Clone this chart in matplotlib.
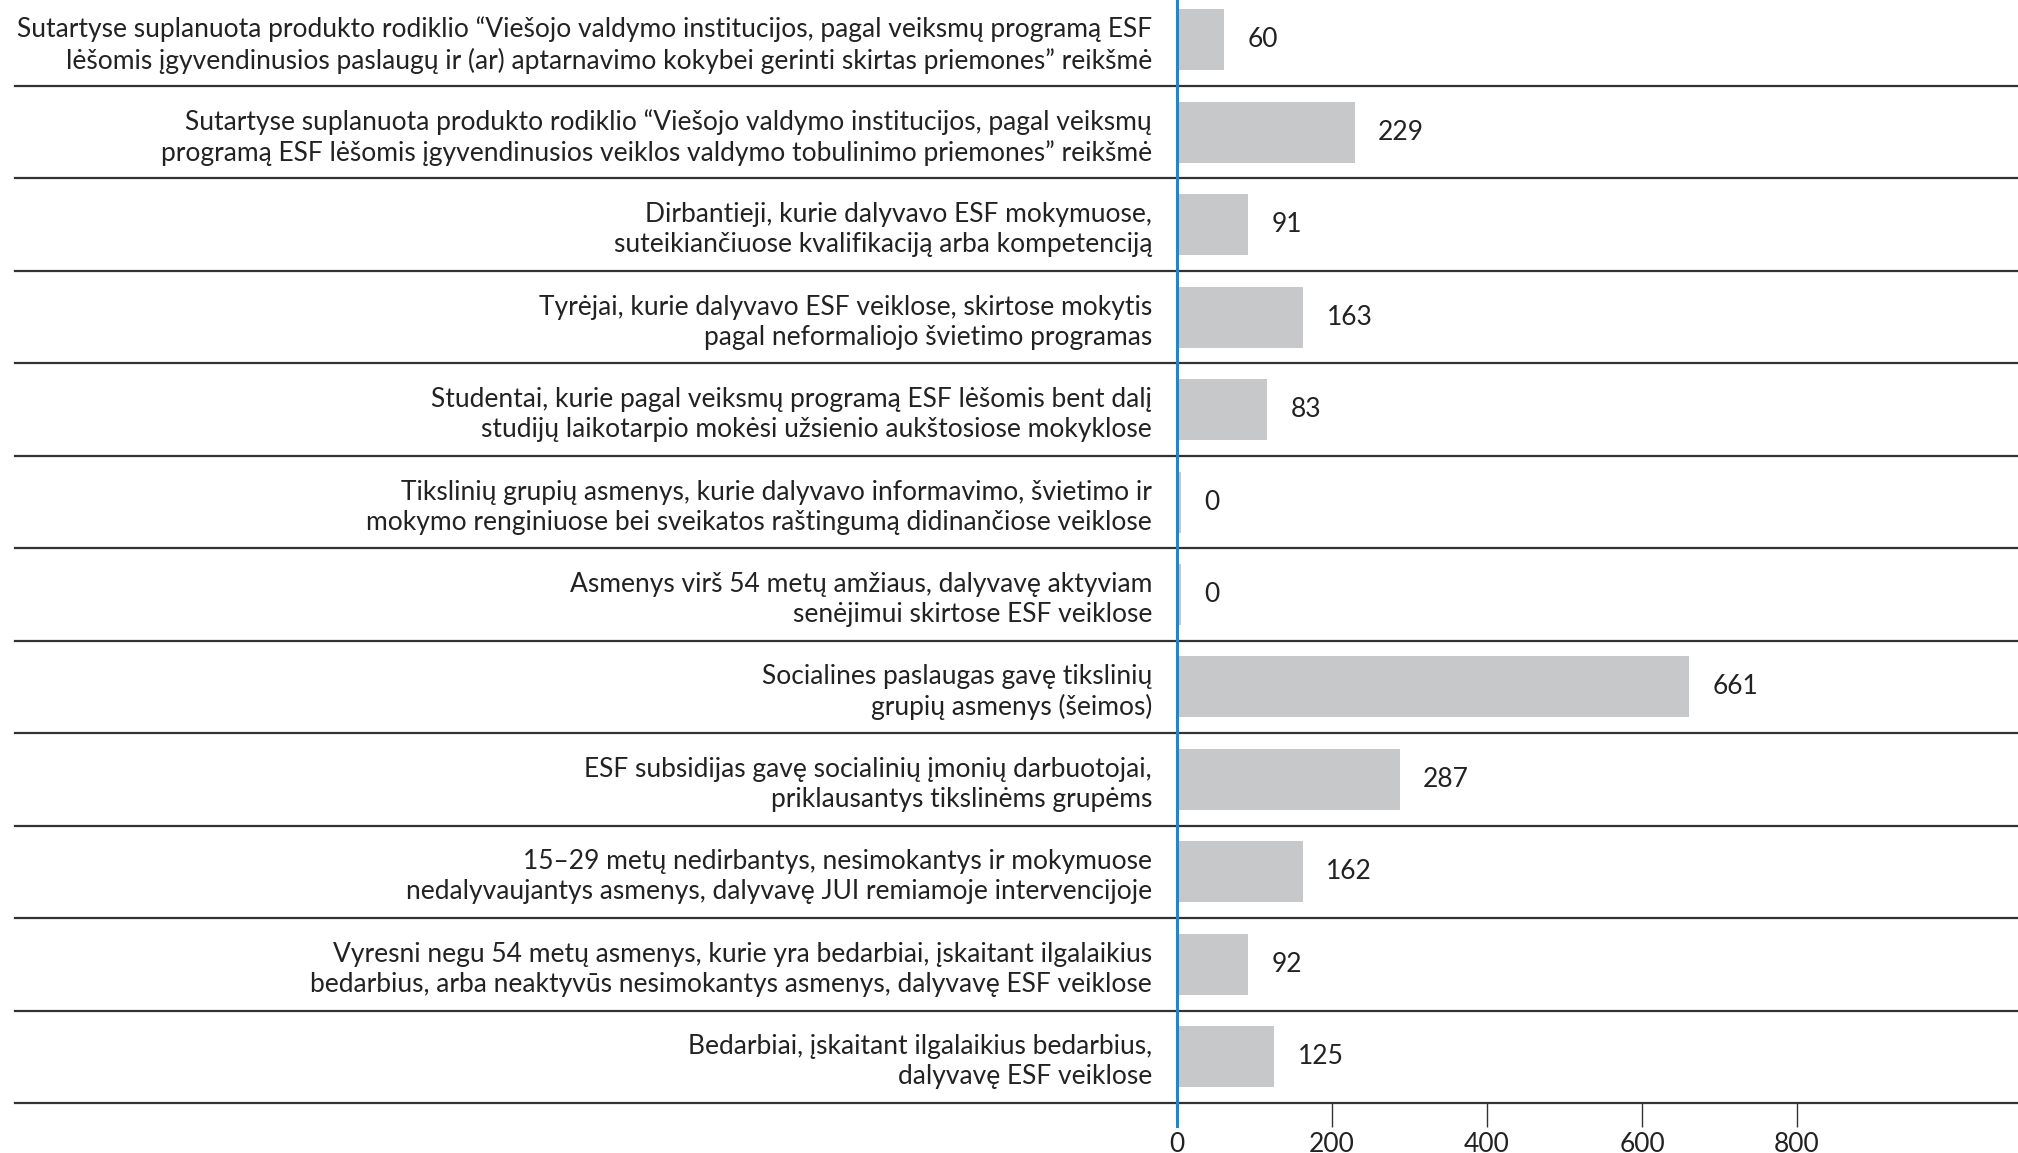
import matplotlib
matplotlib.use("Agg")
import matplotlib.pyplot as plt
import numpy as np

plt.rcParams['font.family'] = ['Lato', 'DejaVu Sans']

labels = [
    "Sutartyse suplanuota produkto rodiklio “Viešojo valdymo institucijos, pagal veiksmų programą ESF\n"
    "lėšomis įgyvendinusios paslaugų ir (ar) aptarnavimo kokybei gerinti skirtas priemones” reikšmė",
    "Sutartyse suplanuota produkto rodiklio “Viešojo valdymo institucijos, pagal veiksmų\n"
    "programą ESF lėšomis įgyvendinusios veiklos valdymo tobulinimo priemones” reikšmė",
    "Dirbantieji, kurie dalyvavo ESF mokymuose,\nsuteikiančiuose kvalifikaciją arba kompetenciją",
    "Tyrėjai, kurie dalyvavo ESF veiklose, skirtose mokytis\npagal neformaliojo švietimo programas",
    "Studentai, kurie pagal veiksmų programą ESF lėšomis bent dalį\nstudijų laikotarpio mokėsi užsienio aukštosiose mokyklose",
    "Tikslinių grupių asmenys, kurie dalyvavo informavimo, švietimo ir\nmokymo renginiuose bei sveikatos raštingumą didinančiose veiklose",
    "Asmenys virš 54 metų amžiaus, dalyvavę aktyviam\nsenėjimui skirtose ESF veiklose",
    "Socialines paslaugas gavę tikslinių\ngrupių asmenys (šeimos)",
    "ESF subsidijas gavę socialinių įmonių darbuotojai,\npriklausantys tikslinėms grupėms",
    "15–29 metų nedirbantys, nesimokantys ir mokymuose\nnedalyvaujantys asmenys, dalyvavę JUI remiamoje intervencijoje",
    "Vyresni negu 54 metų asmenys, kurie yra bedarbiai, įskaitant ilgalaikius\nbedarbius, arba neaktyvūs nesimokantys asmenys, dalyvavę ESF veiklose",
    "Bedarbiai, įskaitant ilgalaikius bedarbius,\ndalyvavę ESF veiklose",
]
# printed values
values = [60, 229, 91, 163, 83, 0, 0, 661, 287, 162, 92, 125]
# bar lengths as drawn in the picture (83 bar is drawn longer, zero rows show a sliver)
bar_lengths = [60, 229, 91, 163, 116, 5, 5, 661, 287, 162, 92, 125]
xticks = [0, 200, 400, 600, 800]

text_col = '#222222'
line_col = '#333333'
bar_col = '#c7c8ca'
blue = '#1589d4'

fig = plt.figure(figsize=(20.18, 11.53), dpi=100)
ax = fig.add_axes([0.5833, 0.0434, 0.4167, 0.9622])

y = np.arange(len(values))
ax.barh(y, bar_lengths, height=0.66, color=bar_col, zorder=2)

ax.set_ylim(len(values) - 0.5, -0.5)
ax.set_xlim(0, 1085)

for s in ['top', 'right', 'left', 'bottom']:
    ax.spines[s].set_visible(False)

# row separators reaching into the label area
for i in range(len(values)):
    ax.axhline(i + 0.5, xmin=-1.382, xmax=1, color=line_col, lw=1.6,
               clip_on=False, zorder=3)

ax.axvline(0, ymin=-0.021, ymax=1, color=blue, lw=2.2, clip_on=False, zorder=4)

ax.set_yticks(y)
ax.set_yticklabels(labels, fontsize=19, color=text_col, linespacing=1.25)
ax.tick_params(axis='y', length=0, pad=18)

ax.set_xticks(xticks)
ax.set_xticklabels([str(t) for t in xticks], fontsize=19, color=text_col)
ax.tick_params(axis='x', length=17, width=1, color=line_col, pad=4)

for yi, b, v in zip(y, bar_lengths, values):
    ax.annotate(str(v), (b, yi), xytext=(17, 0), textcoords='offset points',
                va='center', ha='left', fontsize=19, color=text_col)

fig.savefig('out.png', dpi=100)
